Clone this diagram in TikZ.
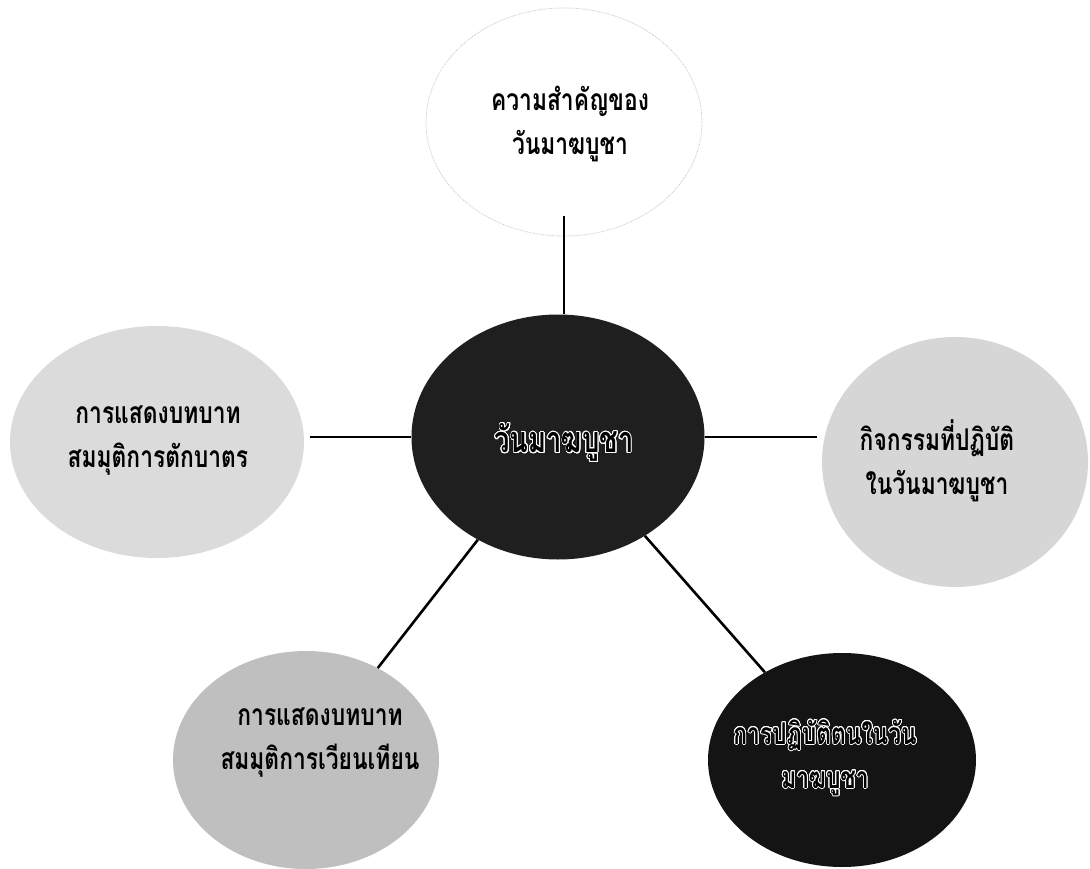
\documentclass[tikz,border=0pt]{standalone}
\usepackage{fontspec}
\usepackage{contour}
\usetikzlibrary{shapes.geometric}
\newfontfamily\thai[Script=Thai,FakeStretch=0.76]{Loma}
\contourlength{0.8pt}
\contournumber{24}
\tikzset{
  blob/.style={ellipse, inner sep=0pt, draw=none},
  lbl/.style={font=\thai\bfseries\fontsize{30}{44}\selectfont, align=center, text=black, inner sep=0pt},
  link/.style={line width=2.6pt, draw=black}
}
\newcommand{\wout}[1]{\contour{white}{#1}}
\begin{document}
\begin{tikzpicture}[x=1pt,y=-1pt]
\useasboundingbox (0,0) rectangle (1090,869);
\fill[white] (0,0) rectangle (1090,869);
% ellipses
\node[blob, fill=white, draw=gray!45, densely dotted, line width=0.8pt, minimum width=276pt, minimum height=228pt] (t) at (564,122) {};
\node[blob, fill=black!88, minimum width=293pt, minimum height=245pt] (c) at (558,437) {};
\node[blob, fill=gray!28, minimum width=294pt, minimum height=232pt] (l) at (157,442) {};
\node[blob, fill=gray!32, minimum width=266pt, minimum height=250pt] (r) at (955,462) {};
\node[blob, fill=gray!50, minimum width=266pt, minimum height=218pt] (bl) at (306,760) {};
\node[blob, fill=black!92, minimum width=268pt, minimum height=214pt] (br) at (842,760) {};
% connectors
\draw[link, shorten <=-20pt] (t.south) -- (t.south |- c.north);
\draw[link, shorten <=6pt] (l.east |- c.west) -- (c.west);
\draw[link, shorten >=5pt] (c.east) -- (r.west |- c.east);
\draw[link] (c) -- (bl);
\draw[link] (c) -- (br);
% labels
\node[lbl] (tt) at (570,124) {ความสำคัญของ\\วันมาฆบูชา};
\node[lbl, font=\thai\bfseries\fontsize{36}{44}\selectfont] (ct) at (564,443) {\wout{วันมาฆบูชา}};
\node[lbl] (lt) at (158,441) {การแสดงบทบาท\\สมมุติการตักบาตร};
\node[lbl] (rt) at (937,461) {กิจกรรมที่ปฏิบัติ\\ในวันมาฆบูชา};
\node[lbl] (blt) at (320,743) {การแสดงบทบาท\\สมมุติการเวียนเทียน};
\node[lbl] (brt) at (825,758) {\wout{การปฏิบัติตนในวัน}\\\wout{มาฆบูชา}};
\end{tikzpicture}
\end{document}
